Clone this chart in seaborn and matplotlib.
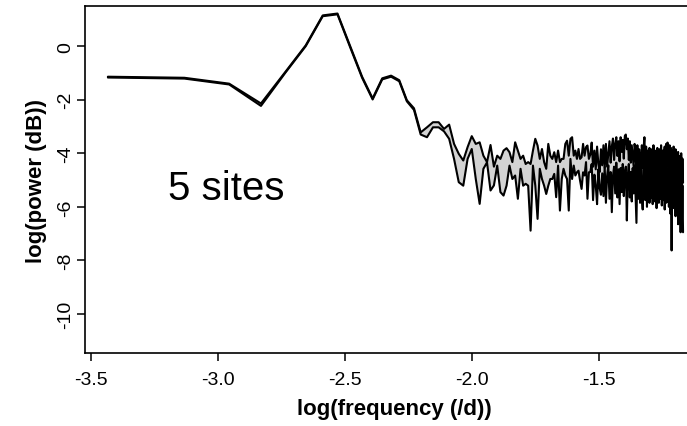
import numpy as np
import pandas as pd
import matplotlib
matplotlib.use("Agg")
import matplotlib.pyplot as plt
import seaborn as sns

# ---- data ----
record_days = 2710
harmonic = list(range(1, 184))

upper = [
    -1.14, -1.18, -1.40, -2.14, -0.95, 0.03, 1.15, 1.22, -0.03, -1.14,
    -1.95, -1.20, -1.10, -1.27, -2.02, -2.32,
    -3.22, -3.03, -2.84, -2.84, -3.09, -2.93, -3.65, -4.02, -4.27, -3.77,
    -3.36, -3.65, -3.59, -4.09, -4.33, -3.69, -4.50,
    -4.09, -4.21, -3.90, -3.81, -3.96, -4.33, -3.59, -3.90, -4.21, -4.09,
    -4.40, -4.33, -4.40, -3.90, -3.46, -3.71, -4.21, -3.84, -4.33, -4.58,
    -3.65, -4.09, -4.21, -3.96, -4.33, -3.90, -4.33, -4.21, -4.21, -3.65,
    -3.53, -4.09, -3.46, -3.40, -4.09, -3.90, -4.21, -3.84, -4.21, -4.15,
    -3.65, -4.09, -3.77, -3.71, -4.21,
    -4.05, -3.60, -4.50, -3.90, -4.60, -3.75, -4.40, -4.70, -3.85, -4.45,
    -3.70, -4.55, -3.65, -4.50, -4.00, -3.55, -4.35, -3.75, -3.45, -4.25,
    -3.65, -3.40, -4.10, -3.55, -4.30, -3.40, -3.95, -3.50, -4.20, -3.35,
    -3.30, -3.85, -3.45, -4.25, -3.55, -4.35, -3.70, -4.10, -4.50, -3.65,
    -3.95, -4.70, -3.70, -4.80, -3.85, -4.25, -4.90, -3.70, -4.55, -3.80,
    -3.40, -4.75, -3.75, -4.85, -3.90, -4.95, -3.80, -4.60, -5.00, -3.85,
    -4.80, -3.70, -4.90, -3.90, -4.60, -5.05, -3.80, -4.45, -4.95, -3.85,
    -4.70, -3.70, -4.85, -3.90, -5.00, -4.00, -3.75, -4.80, -3.65, -4.50,
    -3.60, -4.40, -4.90, -3.70, -4.75, -3.80, -5.10, -3.90, -4.85, -3.75,
    -4.55, -5.05, -3.85, -4.95, -4.05, -5.20, -3.95, -4.90, -5.30, -4.10,
    -5.10, -4.00, -5.25, -4.20, -5.10,
]

lower = [
    -1.17, -1.21, -1.43, -2.23, -0.98, 0.00, 1.12, 1.19, -0.07, -1.18,
    -1.99, -1.24, -1.14, -1.31, -2.06, -2.38,
    -3.30, -3.40, -3.03, -3.03, -3.18, -3.46, -4.21, -5.08, -5.21, -4.21,
    -3.84, -4.96, -5.89, -4.58, -4.34, -5.39, -5.20,
    -4.46, -5.45, -5.58, -5.21, -4.46, -4.96, -4.83, -5.70, -4.58, -5.21,
    -5.14, -5.21, -6.89, -4.46, -5.21, -6.45, -4.58, -4.96, -5.21, -5.52,
    -5.21, -4.96, -4.96, -4.77, -5.64, -4.46, -6.14, -4.96, -4.58, -4.83,
    -4.96, -6.14, -4.21, -4.96, -4.46, -4.83, -4.71, -4.65, -5.02, -5.33,
    -4.71, -4.83, -4.33, -5.70, -4.71,
    -4.70, -4.40, -5.75, -4.80, -5.20, -5.90, -4.60, -5.30, -5.55, -4.75,
    -5.60, -4.50, -5.85, -4.85, -4.45, -5.70, -4.70, -6.20, -4.85, -4.50,
    -5.50, -4.35, -5.65, -4.60, -5.90, -4.55, -5.45, -4.40, -5.60, -4.70,
    -4.50, -6.51, -4.80, -4.40, -5.65, -4.70, -5.80, -4.55, -5.50, -4.45,
    -5.55, -6.60, -4.40, -5.70, -4.55, -5.85, -4.35, -5.60, -6.10, -4.50,
    -4.40, -5.75, -4.45, -6.00, -4.60, -4.35, -5.85, -4.50, -5.65, -4.40,
    -5.90, -4.55, -4.30, -5.80, -4.50, -6.05, -4.70, -4.40, -5.85, -4.55,
    -5.70, -4.40, -5.95, -4.60, -5.75, -4.45, -6.10, -4.70, -5.85, -4.55,
    -5.80, -4.65, -6.00, -4.50, -6.25, -4.75, -7.63, -4.80, -6.05, -4.70,
    -5.90, -4.85, -6.35, -4.80, -6.05, -4.95, -6.65, -5.05, -6.45, -4.90,
    -6.95, -5.35, -6.80, -5.20, -6.95,
]

xticks = [-3.5, -3.0, -2.5, -2.0, -1.5]
xtick_labels = ["-3.5", "-3.0", "-2.5", "-2.0", "-1.5"]
yticks = [0, -2, -4, -6, -8, -10]
ytick_labels = ["0", "-2", "-4", "-6", "-8", "-10"]

# ---- plot ----
sns.set_theme(style="white")
plt.rcParams['font.family'] = ['Liberation Sans', 'DejaVu Sans']

df = pd.DataFrame({
    'logf': np.log10(np.array(harmonic) / record_days),
    'upper': upper,
    'lower': lower,
})

W, H = 687, 427
fig = plt.figure(figsize=(W / 100, H / 100), dpi=100)
ax = fig.add_axes([85 / W, 1 - 354 / H, (703 - 85) / W, (354 - 7.3) / H])

ax.fill_between(df['logf'], df['lower'], df['upper'], color='#d3d3d3', lw=0, zorder=1)
sns.lineplot(data=df, x='logf', y='upper', color='black', lw=1.5,
             estimator=None, sort=False, ax=ax, zorder=2)
sns.lineplot(data=df, x='logf', y='lower', color='black', lw=1.5,
             estimator=None, sort=False, ax=ax, zorder=2)

ax.set_xlim(-3.523, -1.092)
ax.set_ylim(-11.46, 1.49)
ax.set_xticks(xticks)
ax.set_xticklabels(xtick_labels)
ax.set_yticks(yticks)
ax.set_yticklabels(ytick_labels, rotation=90, va='center')

ax.tick_params(axis='both', direction='out', length=6, width=1.1, color='black',
               labelsize=14, labelcolor='black', left=True, bottom=True)
ax.tick_params(axis='x', pad=7)
ax.tick_params(axis='y', pad=2)
for s in ['left', 'bottom', 'top', 'right']:
    ax.spines[s].set_visible(True)
    ax.spines[s].set_color('black')
    ax.spines[s].set_linewidth(1.2)

ax.set_xlabel('log(frequency (/d))', fontweight='bold', fontsize=16, color='black', labelpad=7)
ax.set_ylabel('log(power (dB))', fontweight='bold', fontsize=16, color='black', labelpad=7)

ax.text(-3.196, -5.70, '5 sites', fontsize=29, ha='left', va='baseline', color='black')

fig.savefig('out.png', dpi=100)
